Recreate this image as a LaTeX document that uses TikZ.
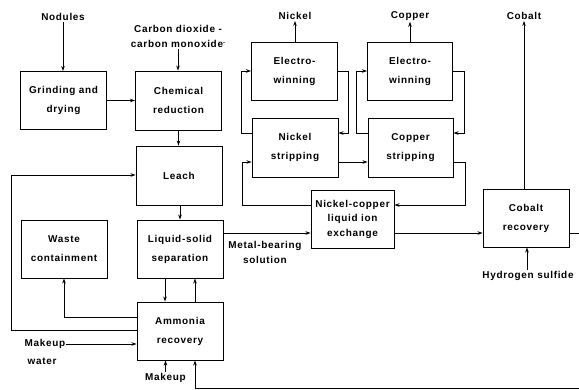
\documentclass[tikz,border=0pt]{standalone}
\usepackage{fontspec}
\setmainfont{Liberation Sans}[LetterSpace=7]
\usetikzlibrary{arrows.meta}
\begin{document}
\begin{tikzpicture}[x=1bp,y=-1bp,
  box/.style={draw, line width=0.9bp, minimum width=86bp, minimum height=58bp, inner sep=0pt, align=center,
    font=\bfseries\fontsize{10}{19}\selectfont},
  lab/.style={inner sep=1bp, align=center, font=\bfseries\fontsize{10}{15}\selectfont},
  arr/.style={line width=0.8bp, -{Stealth[length=5bp,width=3.5bp]}},
  ln/.style={line width=0.8bp}]
\fill[white] (0,0) rectangle (579,389);
\useasboundingbox (0,0) rectangle (579,389);
% boxes
\node[box] (grind) at (63.5,100.5) {Grinding and\\drying};
\node[box, minimum height=59bp] (chem) at (178.5,100.5) {Chemical\\reduction};
\node[box, minimum height=59bp] (leach) at (179,175.5) {Leach};
\node[box] (lss) at (180,249) {Liquid-solid\\separation};
\node[box] (waste) at (64,249) {Waste\\containment};
\node[box] (amm) at (180,331) {Ammonia\\recovery};
\node[box] (ewni) at (294.5,71) {Electro-\\winning};
\node[box, minimum height=59bp] (strni) at (295,147.5) {Nickel\\stripping};
\node[box, minimum width=85bp] (ewcu) at (410,71) {Electro-\\winning};
\node[box, minimum width=85bp, minimum height=59bp] (strcu) at (410.5,147.5) {Copper\\stripping};
\node[box, minimum width=83bp, font=\bfseries\fontsize{10}{14.5}\selectfont] (ix) at (352.5,219) {Nickel-copper\\liquid ion\\exchange};
\node[box] (cob) at (526,218) {Cobalt\\recovery};
% labels
\node[lab] (nod) at (63,17) {Nodules};
\node[lab] (co) at (178,36.5) {Carbon dioxide -\\carbon monoxide\raisebox{3bp}{\fontsize{6}{6}\selectfont -}};
\node[lab] (ni) at (295,16) {Nickel};
\node[lab] (cu) at (410,16) {Copper};
\node[lab] (colab) at (524,16) {Cobalt};
\node[lab] (mbs) at (265,252.5) {Metal-bearing\\solution};
\node[lab] (h2s) at (528,276) {Hydrogen sulfide};
\node[lab] (mw1) at (45,344) {Makeup};
\node[lab] (mw2) at (42,361) {water};
\node[lab] (mk) at (165.5,377.5) {Makeup};
% connectors
\draw[arr] (nod.south) -- (nod.south |- grind.north);
\draw[arr] (co.south) -- (co.south |- chem.north);
\draw[arr] (grind.east) -- (chem.west);
\draw[arr] (chem.south) -- (chem.south |- leach.north);
\draw[arr] (leach.south -| 180,0) -- (lss.north);
\draw[arr] (lss.east |- 0,233) -- (ix.west |- 0,233);
\draw[arr] (lss.south -| 165,0) -- (amm.north -| 165,0);
\draw[arr] (amm.north -| 195,0) -- (lss.south -| 195,0);
\draw[arr] (amm.west |- 0,317) -| (waste.south);
\draw[arr] (amm.west |- 0,330) -- (11,330) |- (leach.west |- 0,175);
\draw[arr] (mw1.east) -- (amm.west |- mw1.east);
\draw[arr] (mk.north) -- (mk.north |- amm.south);
\draw[arr] (cob.east |- 0,233) -- (592,233) -- (592,388) -- (195,388) -- (amm.south -| 195,0);
\draw[arr] (ix.east |- 0,233) -- (cob.west |- 0,233);
\draw[arr] (h2s.north -| 527,0) -- (cob.south -| 527,0);
\draw[arr] (cob.north -| colab.south) -- (colab.south);
\draw[arr] (ewni.north -| ni.south) -- (ni.south);
\draw[arr] (ewcu.north -| cu.south) -- (cu.south);
\draw[arr] (strni.west |- 0,133) -- (241,133) |- (ewni.west |- 0,71);
\draw[arr] (ewni.east |- 0,71) -- (348,71) |- (strni.east |- 0,133);
\draw[arr] (strcu.west |- 0,133) -- (356,133) |- (ewcu.west |- 0,71);
\draw[arr] (ewcu.east |- 0,71) -- (464,71) |- (strcu.east |- 0,133);
\draw[arr] (strni.east |- 0,162) -- (strcu.west |- 0,162);
\draw[arr] (ix.west |- 0,205) -- (242,205) |- (strni.west |- 0,162);
\draw[arr] (strcu.east |- 0,162) -- (465,162) |- (ix.east |- 0,205);
\end{tikzpicture}
\end{document}
